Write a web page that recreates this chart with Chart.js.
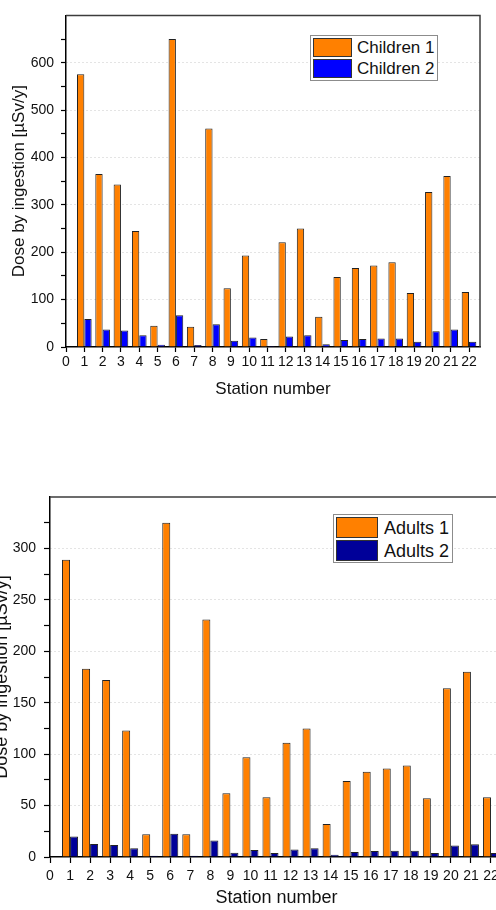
<!DOCTYPE html>
<html>
<head>
<meta charset="utf-8">
<script src="https://cdn.jsdelivr.net/npm/chart.js@4.4.1/dist/chart.umd.min.js"></script>
<style>
html, body { margin: 0; padding: 0; width: 496px; height: 910px; overflow: hidden; background: #fff; }
canvas { position: absolute; }
.legend { position: absolute; box-sizing: border-box; border: 1px solid #8c8c8c; background: #fff;
          font-family: "Liberation Sans", Arial, sans-serif; color: #111; }
.legend .row { position: absolute; display: flex; align-items: center; white-space: nowrap; }
.legend .sw { box-sizing: border-box; border: 1px solid #333; }
.legend span { line-height: 1; }
</style>
</head>
<body>
<canvas id="chartTop" width="496" height="410" style="left:0;top:0"></canvas>
<canvas id="chartBottom" width="540" height="470" style="left:-20px;top:440px"></canvas>
<div id="legendTop" class="legend"></div>
<div id="legendBottom" class="legend"></div>
<script>
// station numbers on the x axis
var stations = [1, 2, 3, 4, 5, 6, 7, 8, 9, 10, 11, 12, 13, 14, 15, 16, 17, 18, 19, 20, 21, 22];
var xTicks = [0, 1, 2, 3, 4, 5, 6, 7, 8, 9, 10, 11, 12, 13, 14, 15, 16, 17, 18, 19, 20, 21, 22];

// dose values [uSv/y]
var children1 = [576, 365, 343, 245, 45, 650, 43, 461, 124, 193, 17, 221, 250, 64, 148, 167, 172, 179, 114, 327, 361, 116];
var children2 = [59, 37, 35, 25, 5, 67, 4, 48, 13, 20, 2, 22, 25, 6, 15, 17, 18, 18, 11, 33, 37, 11];
var adults1 = [289, 183, 172, 123, 22, 325, 22, 231, 62, 97, 58, 111, 125, 32, 74, 83, 86, 89, 57, 164, 180, 58];
var adults2 = [20, 12.6, 11.6, 8.4, 1.3, 22.6, 1.3, 16, 4.2, 6.8, 3.9, 7.4, 8.4, 2.3, 4.8, 5.8, 6.1, 6.1, 3.9, 11.3, 12.3, 3.9];

// y axis ticks (all marks) and the ones that get a label
var yTicksChildren = [0, 50, 100, 150, 200, 250, 300, 350, 400, 450, 500, 550, 600, 650];
var yLabelsChildren = [0, 100, 200, 300, 400, 500, 600];
var yTicksAdults = [0, 25, 50, 75, 100, 125, 150, 175, 200, 225, 250, 275, 300, 325];
var yLabelsAdults = [0, 50, 100, 150, 200, 250, 300];

var FONT = "'Liberation Sans', Arial, sans-serif";
var ORANGE = '#ff8000';

// draws the top and right side of the plot box
var framePlugin = {
    id: 'frame',
    afterDatasetsDraw: function (chart) {
        var a = chart.chartArea, c = chart.ctx;
        c.save();
        c.strokeStyle = '#3c3c3c';
        c.lineWidth = 1.5;
        c.beginPath();
        c.moveTo(a.left, a.top);
        c.lineTo(a.right, a.top);
        c.lineTo(a.right, a.bottom);
        c.stroke();
        c.restore();
    }
};

function series(label, values, color) {
    return {
        label: label,
        data: stations.map(function (s, i) { return { x: s, y: values[i] }; }),
        backgroundColor: color,
        borderColor: '#222',
        borderWidth: 1,
        categoryPercentage: 0.8,
        barPercentage: 1
    };
}

function makeChart(id, datasets, yMax, yTicks, yLabels, g) {
    var ctx = document.getElementById(id).getContext('2d');
    return new Chart(ctx, {
        type: 'bar',
        data: { datasets: datasets },
        options: {
            responsive: false,
            animation: false,
            layout: { padding: { top: g.top, right: g.right, left: 0, bottom: 0 } },
            plugins: { legend: { display: false }, tooltip: { enabled: false } },
            scales: {
                x: {
                    type: 'linear', min: 0, max: 22.6, bounds: 'data', offset: false,
                    afterBuildTicks: function (s) { s.ticks = xTicks.map(function (v) { return { value: v }; }); },
                    afterFit: function (s) { s.height = g.xHeight; },
                    grid: { drawOnChartArea: false, offset: false, tickLength: g.tick, tickColor: '#000', tickWidth: 1.2 },
                    border: { color: '#000', width: 1.5 },
                    ticks: { autoSkip: false, maxRotation: 0, padding: g.xPad, color: '#111',
                             font: { family: FONT, size: 14 }, callback: function (v) { return String(v); } },
                    title: { display: true, text: 'Station number', color: '#111',
                             font: { family: FONT, size: g.titleSize }, padding: { top: 0, bottom: g.xTitlePad } }
                },
                y: {
                    min: 0, max: yMax, bounds: 'data',
                    afterBuildTicks: function (s) { s.ticks = yTicks.map(function (v) { return { value: v }; }); },
                    afterFit: function (s) { s.width = g.yWidth; },
                    grid: {
                        tickLength: g.tick, tickColor: '#000', tickWidth: 1.2, lineWidth: 1,
                        color: function (c) {
                            var v = c.tick ? c.tick.value : 0;
                            return (v > 0 && yLabels.indexOf(v) >= 0) ? '#c8c8c8' : 'transparent';
                        }
                    },
                    border: { color: '#000', width: 1.5, dash: [1, 3] },
                    ticks: { autoSkip: false, padding: g.yPad, color: '#111', font: { family: FONT, size: 14 },
                             callback: function (v) { return yLabels.indexOf(v) >= 0 ? String(v) : ''; } },
                    title: { display: true, text: 'Dose by ingestion [µSv/y]', color: '#111',
                             font: { family: FONT, size: g.titleSize }, padding: { top: g.yTitlePad, bottom: 0 } }
                }
            }
        },
        plugins: [framePlugin]
    });
}

function buildLegend(id, datasets, g) {
    var box = document.getElementById(id);
    box.style.left = g.left + 'px';
    box.style.top = g.top + 'px';
    box.style.width = g.w + 'px';
    box.style.height = g.h + 'px';
    datasets.forEach(function (ds, i) {
        var row = document.createElement('div');
        row.className = 'row';
        row.style.left = g.pad + 'px';
        row.style.top = (g.pad + i * (g.sh + g.gap)) + 'px';
        row.style.height = g.sh + 'px';
        var sw = document.createElement('div');
        sw.className = 'sw';
        sw.style.width = g.sw + 'px';
        sw.style.height = g.sh + 'px';
        sw.style.background = ds.backgroundColor;
        var tx = document.createElement('span');
        tx.textContent = ds.label;
        tx.style.fontSize = g.font + 'px';
        tx.style.marginLeft = g.tgap + 'px';
        row.appendChild(sw);
        row.appendChild(tx);
        box.appendChild(row);
    });
}

var topSets = [series('Children 1', children1, ORANGE), series('Children 2', children2, '#0000ff')];
var bottomSets = [series('Adults 1', adults1, ORANGE), series('Adults 2', adults2, '#000099')];

var chartTop = makeChart('chartTop', topSets, 700, yTicksChildren, yLabelsChildren,
    { top: 15, right: 16, yWidth: 66, xHeight: 63, tick: 5, xPad: 2, yPad: 7,
      titleSize: 17, xTitlePad: 10, yTitlePad: 9 });
var chartBottom = makeChart('chartBottom', bottomSets, 350, yTicksAdults, yLabelsAdults,
    { top: 57, right: 17, yWidth: 70, xHeight: 53, tick: 6, xPad: 5, yPad: 8,
      titleSize: 18, xTitlePad: 1, yTitlePad: 11 });

buildLegend('legendTop', topSets, { left: 310, top: 35, w: 128, h: 46, pad: 2, sw: 39, sh: 19, gap: 2, font: 17, tgap: 5 });
buildLegend('legendBottom', bottomSets, { left: 333, top: 514, w: 120, h: 49, pad: 2, sw: 42, sh: 21, gap: 2, font: 18, tgap: 6 });
</script>
</body>
</html>
